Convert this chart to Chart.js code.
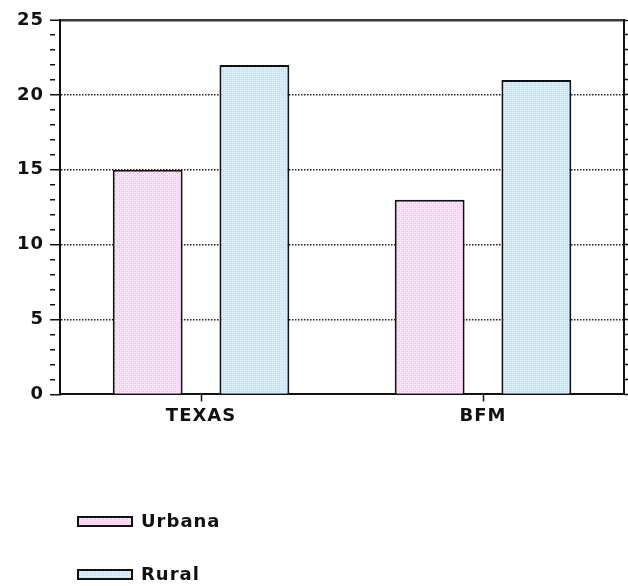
<!DOCTYPE html>
<html>
<head>
<meta charset="utf-8">
<script src="https://cdn.jsdelivr.net/npm/chart.js@4/dist/chart.umd.min.js"></script>
<style>
  html, body { margin: 0; padding: 0; background: #ffffff; }
  #wrap { width: 628px; height: 586px; }
</style>
</head>
<body>
<div id="wrap"><canvas id="chart" width="628" height="586"></canvas></div>
<script>
// Data
const categories = ['TEXAS', 'BFM'];
const seriesNames = ['Urbana', 'Rural'];
const urbanaValues = [15, 13];
const ruralValues = [22, 21];
const yTickLabels = [0, 5, 10, 15, 20, 25];

const FONT = { family: '"DejaVu Sans", Verdana, sans-serif', size: 18, weight: 'bold' };
const INK = '#111111';
const SPACING = '1px';

// Small dotted fill tiles for the bars
function makePattern(base, dot, dot2) {
  const c = document.createElement('canvas');
  c.width = 4; c.height = 4;
  const g = c.getContext('2d');
  g.fillStyle = base; g.fillRect(0, 0, 4, 4);
  g.fillStyle = dot; g.fillRect(1, 1, 1, 1); g.fillRect(3, 3, 1, 1);
  g.fillStyle = dot2; g.fillRect(3, 1, 1, 1); g.fillRect(1, 3, 1, 1);
  return g.createPattern(c, 'repeat');
}
const pinkFill = makePattern('#ffe0fa', '#f4b0ec', '#fbcdf5');
const blueFill = makePattern('#d8eeff', '#c4caff', '#cfe0ff');

// Slightly wider letter spacing for all canvas text
const spacingPlugin = {
  id: 'spacing',
  beforeUpdate(chart) { chart.ctx.letterSpacing = SPACING; },
  beforeDraw(chart) { chart.ctx.letterSpacing = SPACING; }
};

// Stacked legend drawn below the plot
const stackedLegend = {
  id: 'stackedLegend',
  afterDraw(chart) {
    const ctx = chart.ctx;
    ctx.save();
    ctx.letterSpacing = SPACING;
    ctx.font = `${FONT.weight} ${FONT.size}px ${FONT.family}`;
    ctx.textBaseline = 'middle';
    ctx.textAlign = 'left';
    chart.data.datasets.forEach((ds, i) => {
      const cy = chart.height - 65 + i * 53;
      ctx.fillStyle = ds.backgroundColor;
      ctx.fillRect(78, cy - 4, 54, 9);
      ctx.strokeStyle = INK;
      ctx.lineWidth = 2;
      ctx.strokeRect(78, cy - 4, 54, 9);
      ctx.fillStyle = INK;
      ctx.fillText(ds.label, 141, cy + 1);
    });
    ctx.restore();
  }
};

const tickVal = c => (c.tick ? c.tick.value : null);

new Chart(document.getElementById('chart'), {
  type: 'bar',
  data: {
    labels: categories,
    datasets: [
      { label: seriesNames[0], data: urbanaValues, backgroundColor: pinkFill, borderColor: INK, borderWidth: 2 },
      { label: seriesNames[1], data: ruralValues, backgroundColor: blueFill, borderColor: INK, borderWidth: 2 }
    ]
  },
  options: {
    responsive: false,
    animation: false,
    categoryPercentage: 0.757,
    barPercentage: 0.655,
    layout: { padding: { left: 11, right: 0, top: 20, bottom: 155 } },
    plugins: {
      legend: { display: false },
      tooltip: { enabled: false }
    },
    scales: {
      x: {
        grid: {
          offset: false,
          drawOnChartArea: false,
          tickLength: 7,
          tickColor: INK,
          tickWidth: 1.5
        },
        border: { color: INK, width: 2 },
        ticks: { font: FONT, color: INK, padding: 4 }
      },
      y: {
        min: 0,
        max: 25,
        ticks: {
          stepSize: 1,
          autoSkip: false,
          font: FONT,
          color: INK,
          padding: 6,
          callback: v => (yTickLabels.includes(v) ? v : '')
        },
        grid: {
          color: c => {
            const v = tickVal(c);
            if (v === 25) return '#3a3a3a';
            return (v % 5 === 0 && v > 0) ? '#222222' : 'rgba(0,0,0,0)';
          },
          lineWidth: c => (tickVal(c) === 25 ? 2.5 : 1.5),
          tickColor: INK,
          tickWidth: 1.5,
          tickLength: 10,
          tickBorderDash: c => (tickVal(c) % 5 === 0 ? [] : [5, 30])
        },
        border: {
          color: INK,
          width: 2,
          dash: c => (tickVal(c) === 25 || tickVal(c) === null ? [] : [1.5, 1.5])
        }
      },
      y2: {
        position: 'right',
        min: 0,
        max: 25,
        ticks: { display: false, stepSize: 1, autoSkip: false },
        grid: {
          drawOnChartArea: false,
          tickLength: 4,
          tickColor: INK,
          tickWidth: 1.5
        },
        border: { color: INK, width: 2 }
      }
    }
  },
  plugins: [spacingPlugin, stackedLegend]
});
</script>
</body>
</html>
